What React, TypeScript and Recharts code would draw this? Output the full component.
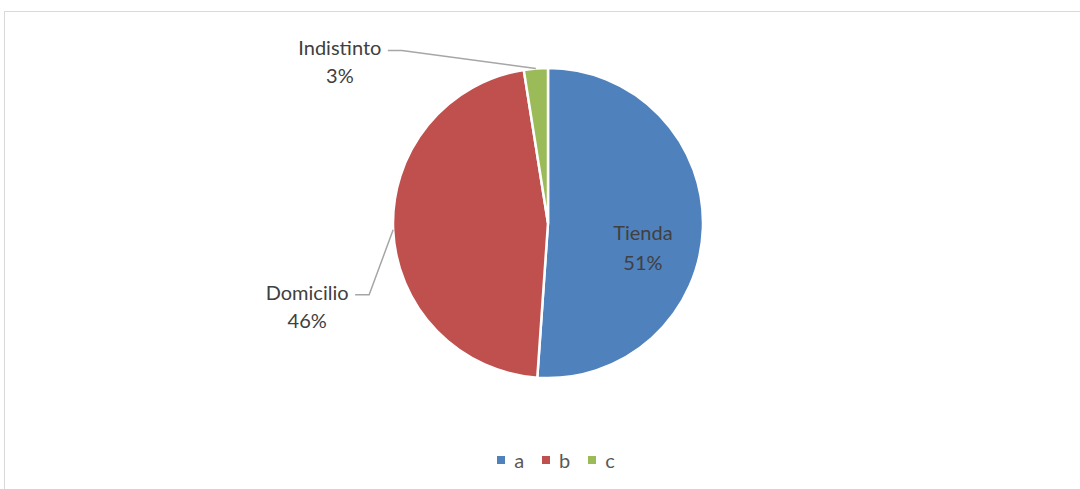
import React from 'react';
import { PieChart, Pie, Cell, Legend } from 'recharts';

const categories = ['Tienda', 'Domicilio', 'Indistinto'];
const legendKeys = ['a', 'b', 'c'];
const shares = [51.1, 46.4, 2.5];
const colors = ['#4F81BD', '#C0504D', '#9BBB59'];

const data = categories.map((name, i) => ({
  name,
  key: legendKeys[i],
  value: shares[i],
}));

const FONT = 'Lato, "Open Sans", sans-serif';
const TEXT = '#404040';
const RAD = Math.PI / 180;

// outside labels get nudged like the Excel original; inside label sits in the slice
const labelOffsets: { dx: number; dy: number }[] = [
  { dx: 0, dy: 0 },
  { dx: -24, dy: 65 },
  { dx: -134, dy: -18 },
];

function renderLabel(props: any) {
  const { cx, cy, midAngle, outerRadius, index, percent } = props;
  const name = categories[index];
  const pct = Math.round(percent * 100);
  if (index === 0) {
    const r = outerRadius * 0.6;
    const x = cx + r * Math.cos(-midAngle * RAD) + 2;
    const y = cy + r * Math.sin(-midAngle * RAD);
    return (
      <text x={x} y={y} textAnchor="middle" fill={TEXT} fontSize={20} fontFamily={FONT}>
        <tspan x={x} dy={14}>{name}</tspan>
        <tspan x={x} dy={30}>{pct}%</tspan>
      </text>
    );
  }
  const ex = cx + outerRadius * Math.cos(-midAngle * RAD);
  const ey = cy + outerRadius * Math.sin(-midAngle * RAD);
  const off = labelOffsets[index];
  const kx = ex + off.dx;
  const ky = ey + off.dy;
  const hx = kx - 14;
  const tx = hx - 48;
  return (
    <g>
      <polyline
        points={`${ex},${ey} ${kx},${ky} ${hx},${ky}`}
        fill="none"
        stroke="#a6a6a6"
        strokeWidth={1.5}
      />
      <text x={tx} y={ky} textAnchor="middle" fill={TEXT} fontSize={20} fontFamily={FONT}>
        <tspan x={tx} dy={5}>{name}</tspan>
        <tspan x={tx} dy={28}>{pct}%</tspan>
      </text>
    </g>
  );
}

function renderLegend(props: any) {
  const { payload } = props;
  return (
    <div style={{ display: 'flex', justifyContent: 'center', fontFamily: FONT, fontSize: 20, color: '#595959' }}>
      {payload.map((entry: any, i: number) => (
        <div key={i} style={{ display: 'flex', alignItems: 'center', marginRight: 18 }}>
          <span style={{ width: 8, height: 8, background: entry.color, display: 'inline-block', marginRight: 9 }} />
          <span>{entry.value}</span>
        </div>
      ))}
    </div>
  );
}

export default function App() {
  return (
    <div style={{ position: 'fixed', left: 0, top: 0, width: 1080, height: 489, background: '#fff', overflow: 'hidden' }}>
      <div
        style={{
          position: 'absolute',
          left: 4,
          top: 11,
          width: 1100,
          height: 500,
          borderTop: '1px solid #d9d9d9',
          borderLeft: '1px solid #d9d9d9',
        }}
      />
      <PieChart
        width={1080}
        height={489}
        margin={{ top: 0, right: 0, bottom: 0, left: 0 }}
        style={{ position: 'absolute', left: 0, top: 0 }}
      >
        <Pie
          data={data}
          dataKey="value"
          nameKey="key"
          cx={548}
          cy={223}
          outerRadius={155}
          startAngle={90}
          endAngle={-270}
          stroke="#fff"
          strokeWidth={2.5}
          label={renderLabel}
          labelLine={false}
          isAnimationActive={false}
        >
          {data.map((d, i) => (
            <Cell key={d.key} fill={colors[i]} />
          ))}
        </Pie>
        <Legend
          verticalAlign="bottom"
          align="center"
          wrapperStyle={{ bottom: 17, left: 25 }}
          content={renderLegend}
        />
      </PieChart>
    </div>
  );
}
